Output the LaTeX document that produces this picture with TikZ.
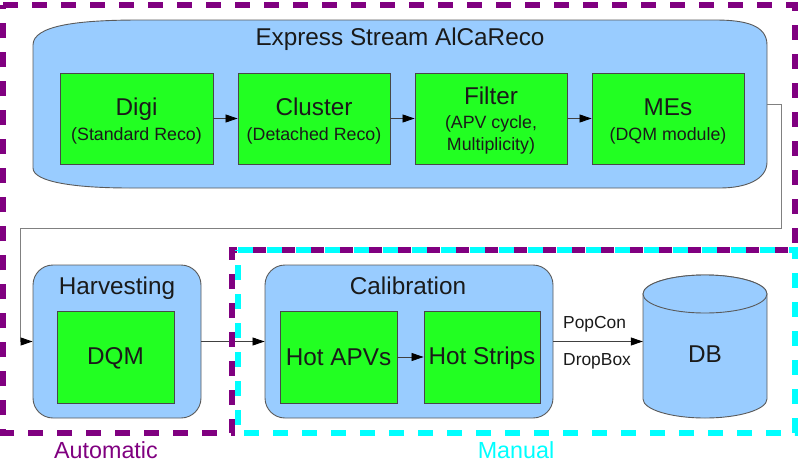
\documentclass[tikz,border=0pt]{standalone}
\usepackage{fontspec}
\setmainfont{Liberation Sans}
\usetikzlibrary{arrows.meta}
\definecolor{bluefill}{HTML}{99CCFF}
\definecolor{greenfill}{HTML}{22FF22}
\definecolor{boxline}{HTML}{5A5A5A}
\definecolor{txt}{HTML}{1A1A1A}
\definecolor{purp}{HTML}{800080}
\definecolor{cyanc}{HTML}{00FFFF}
\definecolor{conn}{HTML}{404040}
\definecolor{connlight}{HTML}{808080}
\tikzset{
  bluebox/.style={draw=boxline, fill=bluefill, line width=0.9pt, inner sep=0pt},
  gbox/.style={draw=boxline!80!black, fill=greenfill, line width=0.9pt, inner sep=0pt, minimum height=91pt},
  inv/.style={inner sep=0pt},
  bigtxt/.style={anchor=base, inner sep=0pt, text=txt, font=\fontsize{24.3}{29}\selectfont},
  smalltxt/.style={anchor=base, inner sep=0pt, text=txt, font=\fontsize{17.8}{21}\selectfont},
  lbl/.style={anchor=base west, inner sep=0pt, text=txt, font=\fontsize{17.4}{21}\selectfont},
  arr/.style={draw=conn, line width=0.8pt, -{Triangle[length=12pt,width=8pt,color=black]}},
  arrlight/.style={draw=connlight, line width=0.9pt, -{Triangle[length=12pt,width=8pt,color=black]}},
  frame/.style={line width=5.5pt, dash pattern=on 15pt off 14pt},
}
\begin{document}
\begin{tikzpicture}[x=1pt,y=-1pt]
\useasboundingbox (0,0) rectangle (800,463);

% Express stream box
\draw[bluebox] (33,45) .. controls (33,25) and (80,20) .. (140,20) -- (715,20)
  .. controls (745,20) and (767,25) .. (767,45) -- (767,162)
  .. controls (767,180) and (745,188) .. (720,188) -- (130,188)
  .. controls (75,188) and (33,182) .. (33,168) -- cycle;
\node[inv, minimum width=734pt, minimum height=168pt] (expr) at (400,104) {};
\node[bigtxt] (exprt) at (400,45) {Express Stream AlCaReco};

% green boxes in express stream
\node[gbox, minimum width=153pt] (digi) at (136.5,118.5) {};
\node[gbox, minimum width=152pt] (cluster) at (314,118.5) {};
\node[gbox, minimum width=152pt] (filter) at (491,118.5) {};
\node[gbox, minimum width=152pt] (mes) at (668,118.5) {};

\node[bigtxt] (digit) at (136.5,115) {Digi};
\node[smalltxt] (digis) at (136.5,140) {(Standard Reco)};
\node[bigtxt] (clustert) at (314,115) {Cluster};
\node[smalltxt] (clusters) at (314,140) {(Detached Reco)};
\node[bigtxt] (filtert) at (491,104) {Filter};
\node[smalltxt] (filters1) at (491,128) {(APV cycle,};
\node[smalltxt] (filters2) at (491,150) {Multiplicity)};
\node[bigtxt] (mest) at (668,115) {MEs};
\node[smalltxt] (mess) at (668,140) {(DQM module)};

\draw[arr] (digi) -- (cluster);
\draw[arr] (cluster) -- (filter);
\draw[arr] (filter) -- (mes);

% Harvesting
\node[bluebox, rounded corners=20pt, minimum width=168pt, minimum height=153pt] (harv) at (117,341.5) {};
\node[bigtxt] (harvt) at (117,294) {Harvesting};
\node[gbox, minimum width=117pt, minimum height=92pt] (dqm) at (115.5,357) {};
\node[bigtxt] (dqmt) at (115.5,364) {DQM};

% Calibration
\node[bluebox, rounded corners=20pt, minimum width=288pt, minimum height=153pt] (calib) at (409,341.5) {};
\node[bigtxt] (calibt) at (408,294) {Calibration};
\node[gbox, minimum width=117pt, minimum height=92pt] (hotapv) at (338.5,357) {};
\node[gbox, minimum width=116pt, minimum height=92pt] (hotstr) at (482,357) {};
\node[bigtxt] (hotapvt) at (338.5,365) {Hot APVs};
\node[bigtxt] (hotstrt) at (482,364) {Hot Strips};
\draw[arr] (hotapv) -- (hotstr);

% DB cylinder
\draw[bluebox] (643,294) -- (643,399) arc[start angle=180, end angle=0, x radius=62, y radius=19]
  -- (767,294) arc[start angle=0, end angle=-180, x radius=62, y radius=19] -- cycle;
\draw[bluebox] (705,294) ellipse[x radius=62, y radius=19];
\node[inv, minimum width=124pt, minimum height=153pt] (db) at (705,341.5) {};
\node[bigtxt] (dbt) at (705,362) {DB};

% connectors
\coordinate (c1) at (781,228);
\coordinate (c2) at (20,228);
\draw[arrlight] (expr.east) -| (c1) -- (c2) |- (harv.west);
\draw[arr] (harv) -- (calib);
\draw[arr] (calib.east) -- (db.west);
\node[lbl] (popcon) at (563,328) {PopCon};
\node[lbl] (dropbox) at (563,365) {DropBox};

% frames
\draw[frame, draw=purp] (3,5) -- (795,5) -- (795,250) -- (232,250) -- (232,433) -- (3,433) -- cycle;
\draw[frame, draw=cyanc] (238,250) -- (795,250) -- (795,433) -- (238,433) -- cycle;
\node[bigtxt, text=purp, font=\fontsize{23.3}{28}\selectfont] (auto) at (106,458) {Automatic};
\node[bigtxt, text=cyanc, font=\fontsize{23.3}{28}\selectfont] (manual) at (516,458) {Manual};
\end{tikzpicture}
\end{document}
